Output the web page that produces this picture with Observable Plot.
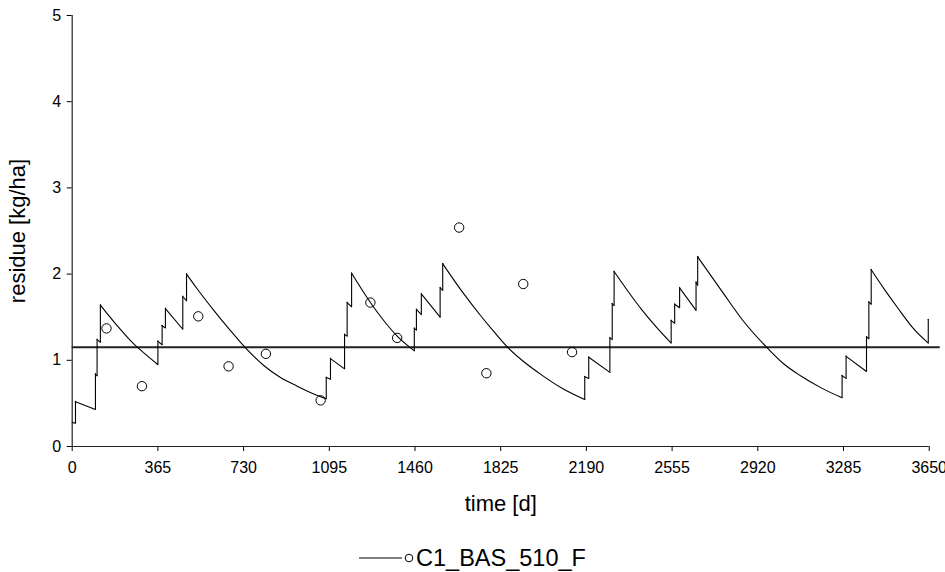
<!DOCTYPE html>
<html>
<head>
<meta charset="utf-8">
<script src="https://cdn.jsdelivr.net/npm/d3@7"></script>
<script src="https://cdn.jsdelivr.net/npm/@observablehq/plot@0.6"></script>
<style>
  html, body { margin: 0; padding: 0; background: white; }
  #wrap { position: relative; width: 945px; height: 572px; font-family: "Liberation Sans", Arial, sans-serif; }
  #legend { position: absolute; top: 545px; left: 0; width: 945px; height: 26px; display: flex; justify-content: center; align-items: center; font-size: 23.5px; color: #000; }
  #legend svg { display: block; }
</style>
</head>
<body>
<div id="wrap">
  <div id="chart"></div>
  <div id="legend"><svg width="57" height="26"><line x1="0" x2="43" y1="13" y2="13" stroke="#000" stroke-width="1"/><circle cx="50" cy="13" r="3.8" fill="none" stroke="#000" stroke-width="1"/></svg><span>C1_BAS_510_F</span></div>
</div>
<script>
// Simulated residue (line)
const lineDays = [
  0, 14, 14, 99, 99, 106, 106, 120, 120, 192, 262, 319, 365,
  365, 383, 383, 397, 397, 471, 471, 487, 487,
  532, 603, 674, 738, 816, 887, 958, 1029, 1082,
  1082, 1100, 1100, 1160, 1160, 1171, 1171, 1190, 1190,
  1270, 1330, 1384, 1457,
  1457, 1466, 1466, 1487, 1487, 1567, 1567, 1578, 1578,
  1668, 1739, 1800, 1855, 1925, 1994, 2090, 2183,
  2183, 2200, 2200, 2290, 2290, 2300, 2300, 2308, 2308,
  2370, 2428, 2490, 2551,
  2551, 2566, 2566, 2587, 2587, 2657, 2657, 2664, 2664,
  2775, 2860, 2960, 3030, 3102, 3190, 3279,
  3279, 3296, 3296, 3383, 3383, 3393, 3393, 3403, 3403,
  3460, 3514, 3584, 3646, 3646
];
const lineValues = [
  0.28, 0.27, 0.52, 0.43, 0.84, 0.82, 1.24, 1.21, 1.64, 1.40, 1.19, 1.055, 0.95,
  1.22, 1.18, 1.40, 1.375, 1.60, 1.36, 1.74, 1.69, 2.00,
  1.83, 1.58, 1.345, 1.145, 0.94, 0.80, 0.70, 0.61, 0.553,
  0.80, 0.78, 1.02, 0.90, 1.30, 1.28, 1.67, 1.62, 2.01,
  1.67, 1.45, 1.28, 1.11,
  1.37, 1.35, 1.59, 1.53, 1.77, 1.50, 1.84, 1.81, 2.12,
  1.77, 1.52, 1.32, 1.15, 0.98, 0.84, 0.67, 0.545,
  0.81, 0.79, 1.035, 0.86, 1.26, 1.24, 1.655, 1.635, 2.03,
  1.79, 1.58, 1.38, 1.20,
  1.46, 1.43, 1.65, 1.61, 1.84, 1.58, 1.905, 1.87, 2.20,
  1.77, 1.45, 1.145, 0.96, 0.82, 0.68, 0.565,
  0.82, 0.79, 1.045, 0.87, 1.27, 1.25, 1.675, 1.65, 2.05,
  1.82, 1.615, 1.365, 1.20, 1.47
];
// Observed residue (circles)
const obsDays = [146, 297, 537, 666, 825, 1058, 1270, 1384, 1648, 1764, 1921, 2129];
const obsValues = [1.37, 0.70, 1.51, 0.93, 1.075, 0.535, 1.67, 1.26, 2.54, 0.85, 1.885, 1.095];
// Horizontal reference level
const meanValue = [1.15];
const meanSpan = [0, 3697];
// Axis ticks and titles
const xTicks = [0, 365, 730, 1095, 1460, 1825, 2190, 2555, 2920, 3285, 3650];
const yTicks = [0, 1, 2, 3, 4, 5];
const xTitle = ["time [d]"];
const yTitle = ["residue [kg/ha]"];

// Split the simulated series into smooth decay pieces and vertical jumps (applications)
const decayData = [];
const jumpData = [];
let seg = 0;
for (let i = 0; i < lineDays.length; i++) {
  if (i > 0 && lineDays[i] === lineDays[i - 1]) {
    jumpData.push({day: lineDays[i], from: lineValues[i - 1], to: lineValues[i]});
    seg++;
  }
  decayData.push({day: lineDays[i], value: lineValues[i], seg});
}
const obsData = obsDays.map((d, i) => ({day: d, value: obsValues[i]}));

const chart = Plot.plot({
  width: 945,
  height: 530,
  marginTop: 15,
  marginLeft: 71.7,
  marginRight: 16.3,
  marginBottom: 84,
  style: {fontFamily: "'Liberation Sans', Arial, sans-serif", fontSize: "16px", color: "#000", background: "white"},
  x: {domain: [0, 3650], ticks: xTicks, tickSize: 5, tickPadding: 10, tickFormat: d => String(d), label: null},
  y: {domain: [0, 5], ticks: yTicks, tickSize: 5, tickPadding: 6, tickFormat: d => String(d), label: null},
  marks: [
    Plot.ruleX([0], {stroke: "#222", strokeWidth: 1.2}),
    Plot.ruleY([0], {stroke: "#222", strokeWidth: 1.2}),
    Plot.ruleY(meanValue, {x1: meanSpan[0], x2: meanSpan[1], stroke: "#222", strokeWidth: 2}),
    Plot.line(decayData, {x: "day", y: "value", z: "seg", curve: "monotone-x", stroke: "#000", strokeWidth: 1.1, strokeLinecap: "round"}),
    Plot.ruleX(jumpData, {x: "day", y1: "from", y2: "to", stroke: "#000", strokeWidth: 1.1, strokeLinecap: "round"}),
    Plot.dot(obsData, {x: "day", y: "value", r: 4.7, stroke: "#000", strokeWidth: 1, fill: "none"}),
    Plot.text(xTitle, {frameAnchor: "bottom", lineAnchor: "middle", textAnchor: "middle", dy: 57, fontSize: 22, fill: "#000"}),
    Plot.text(yTitle, {frameAnchor: "left", lineAnchor: "middle", textAnchor: "middle", rotate: -90, dx: -54, fontSize: 22, fill: "#000"})
  ]
});
document.getElementById("chart").appendChild(chart);
</script>
</body>
</html>
